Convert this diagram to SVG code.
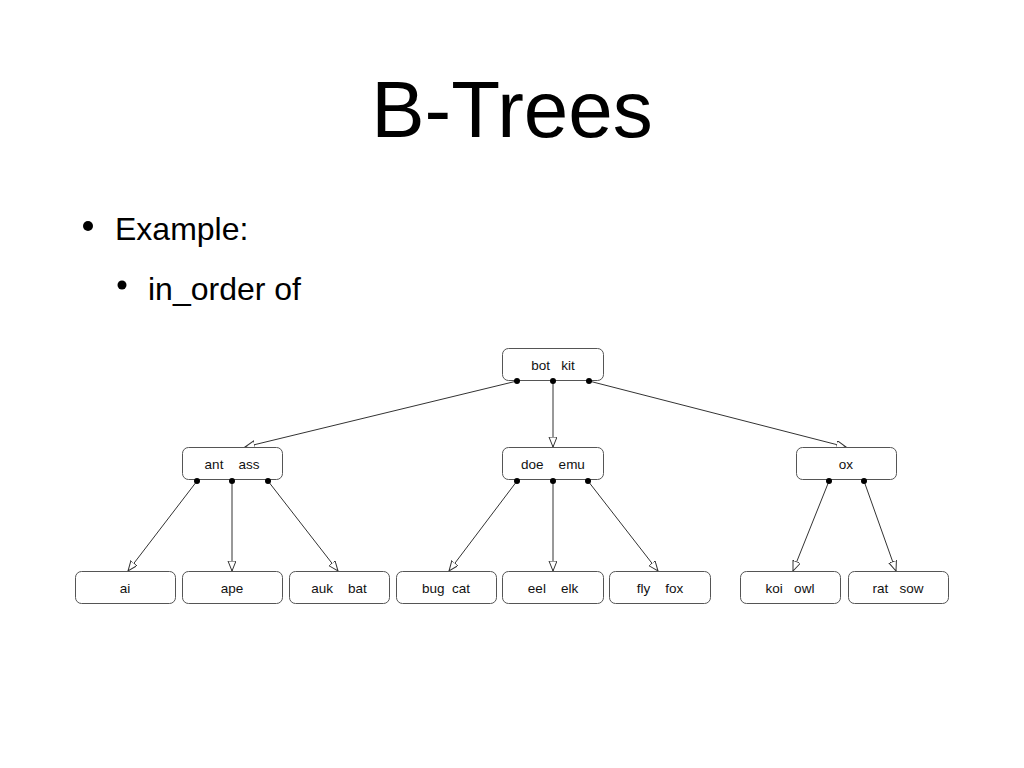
<svg xmlns="http://www.w3.org/2000/svg" width="1024" height="768" viewBox="0 0 1024 768">
<style>
.title{font-family:"Liberation Sans",Arial,sans-serif;font-size:80px;fill:#000;text-anchor:middle}
.bul{font-family:"Liberation Sans",Arial,sans-serif;font-size:32px;fill:#000}
.box{fill:#fff;stroke:#555;stroke-width:1}
.lbl{font-family:"Liberation Sans",Arial,sans-serif;font-size:13.5px;fill:#111;text-anchor:middle}
.edge{stroke:#333;stroke-width:1;fill:none;marker-end:url(#tri)}
.dot{fill:#000}
</style>
<defs>
<marker id="tri" markerUnits="userSpaceOnUse" markerWidth="12" markerHeight="10" refX="10" refY="4" orient="auto" viewBox="0 0 12 10">
<path d="M0,0 L10,4 L0,8 Z" fill="#fff" stroke="#333" stroke-width="1"/>
</marker>
</defs>
<rect width="1024" height="768" fill="#fff"/>
<text class="title" x="512" y="137">B-Trees</text>
<circle cx="88" cy="226" r="5" fill="#000"/>
<text class="bul" x="115" y="240">Example:</text>
<circle cx="122" cy="285" r="4.5" fill="#000"/>
<text class="bul" x="148" y="300">in_order of</text>

<g id="connectors">
<line class="edge" x1="517" y1="381" x2="245" y2="447"/>
<line class="edge" x1="553" y1="381" x2="553" y2="447"/>
<line class="edge" x1="589" y1="381" x2="846" y2="447"/>
<line class="edge" x1="197" y1="481" x2="128" y2="571"/>
<line class="edge" x1="232" y1="481" x2="232" y2="571"/>
<line class="edge" x1="268" y1="481" x2="338" y2="571"/>
<line class="edge" x1="517" y1="481" x2="449" y2="571"/>
<line class="edge" x1="553" y1="481" x2="553" y2="571"/>
<line class="edge" x1="588" y1="481" x2="658" y2="571"/>
<line class="edge" x1="829" y1="481" x2="793" y2="571"/>
<line class="edge" x1="864" y1="481" x2="896" y2="571"/>
</g>

<g id="n-root">
<rect class="box" x="502.5" y="348.5" width="101" height="32" rx="6"/>
<text class="lbl" x="553" y="370" xml:space="preserve">bot   kit</text>
<circle class="dot" cx="517" cy="381" r="3"/><circle class="dot" cx="553" cy="381" r="3"/><circle class="dot" cx="589" cy="381" r="3"/>
</g>
<g id="n-antass">
<rect class="box" x="182.5" y="447.5" width="100" height="32" rx="6"/>
<text class="lbl" x="232" y="469" xml:space="preserve">ant    ass</text>
<circle class="dot" cx="197" cy="481" r="3"/><circle class="dot" cx="232" cy="481" r="3"/><circle class="dot" cx="268" cy="481" r="3"/>
</g>
<g id="n-doeemu">
<rect class="box" x="502.5" y="447.5" width="101" height="32" rx="6"/>
<text class="lbl" x="553" y="469" xml:space="preserve">doe    emu</text>
<circle class="dot" cx="517" cy="481" r="3"/><circle class="dot" cx="553" cy="481" r="3"/><circle class="dot" cx="588" cy="481" r="3"/>
</g>
<g id="n-ox">
<rect class="box" x="796.5" y="447.5" width="100" height="32" rx="6"/>
<text class="lbl" x="846" y="469">ox</text>
<circle class="dot" cx="829" cy="481" r="3"/><circle class="dot" cx="864" cy="481" r="3"/>
</g>
<g id="n-ai"><rect class="box" x="75.5" y="571.5" width="100" height="32" rx="6"/><text class="lbl" x="125" y="593">ai</text></g>
<g id="n-ape"><rect class="box" x="182.5" y="571.5" width="100" height="32" rx="6"/><text class="lbl" x="232" y="593">ape</text></g>
<g id="n-aukbat"><rect class="box" x="289.5" y="571.5" width="100" height="32" rx="6"/><text class="lbl" x="339" y="593" xml:space="preserve">auk    bat</text></g>
<g id="n-bugcat"><rect class="box" x="396.5" y="571.5" width="100" height="32" rx="6"/><text class="lbl" x="446" y="593" xml:space="preserve">bug  cat</text></g>
<g id="n-eelelk"><rect class="box" x="502.5" y="571.5" width="101" height="32" rx="6"/><text class="lbl" x="553" y="593" xml:space="preserve">eel    elk</text></g>
<g id="n-flyfox"><rect class="box" x="609.5" y="571.5" width="101" height="32" rx="6"/><text class="lbl" x="660" y="593" xml:space="preserve">fly    fox</text></g>
<g id="n-koiowl"><rect class="box" x="740.5" y="571.5" width="100" height="32" rx="6"/><text class="lbl" x="790" y="593" xml:space="preserve">koi   owl</text></g>
<g id="n-ratsow"><rect class="box" x="848.5" y="571.5" width="100" height="32" rx="6"/><text class="lbl" x="898" y="593" xml:space="preserve">rat   sow</text></g>
</svg>
